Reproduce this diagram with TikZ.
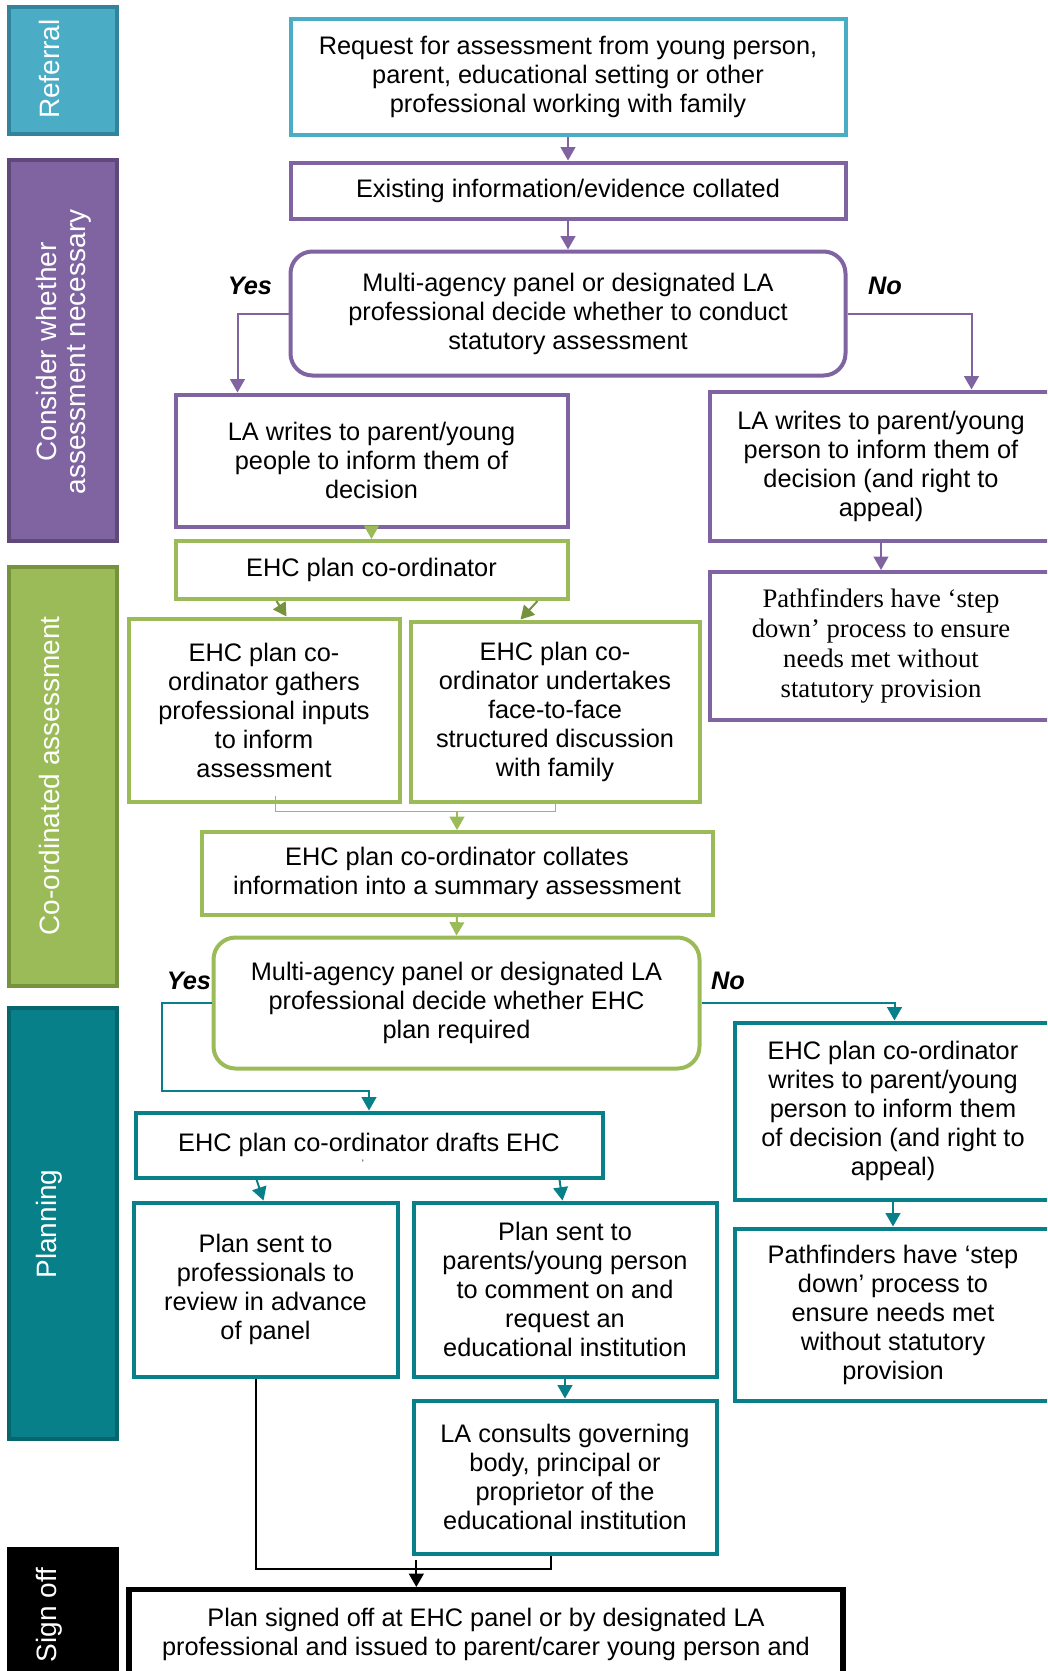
\documentclass[tikz,border=0pt]{standalone}
\usepackage{fontspec}
\setmainfont{Liberation Sans}
\newfontfamily\serifbox{Liberation Serif}
\usetikzlibrary{arrows.meta}
\definecolor{refc}{HTML}{4BACC6}
\definecolor{refd}{HTML}{31849B}
\definecolor{purc}{HTML}{8064A2}
\definecolor{purd}{HTML}{5F497A}
\definecolor{grnc}{HTML}{9BBB59}
\definecolor{grnd}{HTML}{76923C}
\definecolor{tlc}{HTML}{07808A}
\definecolor{tld}{HTML}{05666E}
\begin{document}
\begin{tikzpicture}[x=0.75pt,y=-0.75pt,
  sz/.style 2 args={minimum width=#1*0.75pt, minimum height=#2*0.75pt},
  box/.style={draw, line width=3pt, inner sep=0pt, fill=white, align=center,
    font=\fontsize{19pt}{21.75pt}\selectfont},
  serifbx/.style={font=\serifbox\fontsize{20pt}{22.4pt}\selectfont},
  bar/.style 2 args={fill=#1, draw=#2, line width=3pt, inner sep=0pt},
  bartext/.style={rotate=90, text=white, align=center,
    font=\fontsize{21pt}{21.75pt}\selectfont},
  yn/.style={font=\fontsize{19pt}{21.75pt}\selectfont\bfseries\itshape},
  arr/.style={line width=1.5pt, -{Triangle[length=10pt,width=11pt]}},
  thinln/.style={line width=1.1pt}]
\useasboundingbox (0,0) rectangle (1047,1671);
\clip (0,0) rectangle (1047,1671);

% side bars
\node[bar={refc}{refd}, sz={108}{127}] (bref) at (62.5,70) {};
\node[bartext] (tref) at (49,69) {Referral};
\node[bar={purc}{purd}, sz={108}{381}] (bcons) at (62.5,350) {};
\node[bartext] (tcons) at (64,352) {Consider whether\\assessment necessary};
\node[bar={grnc}{grnd}, sz={108}{419}] (bcoord) at (62.5,776) {};
\node[bartext] (tcoord) at (49,776) {Co-ordinated assessment};
\node[bar={tlc}{tld}, sz={108}{431}] (bplan) at (62.5,1223) {};
\node[bartext] (tplan) at (49,1224) {Planning};
\node[bar={black}{black}, sz={108}{160}] (bsign) at (62.5,1629) {};
\node[bartext] (tsign) at (49,1615) {Sign off};

% boxes
\node[box, draw=refc, sz={555}{116}] (req) at (568,76.5)
  {Request for assessment from young person,\\parent, educational setting or other\\professional working with family};
\node[box, draw=purc, sz={555}{56}] (exist) at (568,190.5)
  {Existing information/evidence collated};
\node[box, draw=purc, rounded corners=16.5pt, sz={555}{124}] (dec1) at (568,313.5)
  {Multi-agency panel or designated LA\\professional decide whether to conduct\\statutory assessment};
\node[box, draw=purc, sz={392}{132}] (lal) at (371.5,460.5)
  {LA writes to parent/young\\people to inform them of\\decision};
\node[box, draw=purc, sz={343}{149}] (lar) at (881,466)
  {LA writes to parent/young\\person to inform them of\\decision (and right to\\appeal)};
\node[box, draw=purc, serifbx, sz={343}{148}] (pathp) at (881,646)
  {Pathfinders have ‘step\\down’ process to ensure\\needs met without\\statutory provision};
\node[box, draw=grnc, sz={392}{58}] (ehc) at (371.5,570)
  {EHC plan co-ordinator};
\node[box, draw=grnc, sz={271}{183}] (gath) at (264,710)
  {EHC plan co-\\ordinator gathers\\professional inputs\\to inform\\assessment};
\node[box, draw=grnc, sz={289}{180}] (under) at (555,711.5)
  {EHC plan co-\\ordinator undertakes\\face-to-face\\structured discussion\\with family};
\node[box, draw=grnc, sz={511}{83}] (coll) at (457,873.5)
  {EHC plan co-ordinator collates\\information into a summary assessment};
\node[box, draw=grnc, rounded corners=16.5pt, sz={486}{131}] (dec2) at (456.5,1003)
  {Multi-agency panel or designated LA\\professional decide whether EHC\\plan required};
\node[box, draw=tlc, sz={317}{177}] (ehcw) at (893,1111)
  {EHC plan co-ordinator\\writes to parent/young\\person to inform them\\of decision (and right to\\appeal)};
\node[box, draw=tlc, sz={317}{172}] (patht) at (893,1314.5)
  {Pathfinders have ‘step\\down’ process to\\ensure needs met\\without statutory\\provision};
\node[box, draw=tlc, sz={467}{65}] (draft) at (369,1145)
  {EHC plan co-ordinator drafts EHC};
\node[font=\fontsize{7pt}{7pt}\selectfont] (dmark) at (363,1163) {'};
\node[box, draw=tlc, sz={264}{174}] (prof) at (265.5,1289.5)
  {Plan sent to\\professionals to\\review in advance\\of panel};
\node[box, draw=tlc, sz={303}{174}] (par) at (565,1289.5)
  {Plan sent to\\parents/young person\\to comment on and\\request an\\educational institution};
\node[box, draw=tlc, sz={303}{153}] (cons) at (565,1477)
  {LA consults governing\\body, principal or\\proprietor of the\\educational institution};
\node[box, draw=black, line width=4pt, minimum width=714*0.75pt, inner ysep=14pt, anchor=north] (sign) at (486,1587)
  {Plan signed off at EHC panel or by designated LA\\professional and issued to parent/carer young person and};

% yes / no labels
\node[yn] (yes1) at (250,286) {Yes};
\node[yn] (no1) at (885,286) {No};
\node[yn] (yes2) at (189,981) {Yes};
\node[yn] (no2) at (728,981) {No};

% connectors
\draw[arr, purc] (req.south) -- (exist.north);
\draw[arr, purc] (exist.south) -- (dec1.north);
\draw[arr, purc] (dec1.west) -| ([xshift=48pt]lal.north west);
\draw[arr, purc] (dec1.east) -| ([xshift=198pt]lar.north west);
\draw[arr, grnc] (lal.south) -- (ehc.north);
\draw[arr, purc] (lar.south) -- (pathp.north);
\draw[arr, grnd] ([xshift=77.25pt]ehc.south west) -- ([xshift=120pt]gath.north west);
\draw[arr, grnd] ([xshift=273pt]ehc.south west) -- ([xshift=84pt]under.north west);
\draw[thinln, grnc] ([xshift=111.75pt,yshift=6pt]gath.south west) -- ++(0,16) -| ([xshift=110.25pt]under.south west);
\draw[arr, grnc] ([yshift=14.25pt]coll.north) -- (coll.north);
\draw[arr, grnc] (coll.south) -- (dec2.north);
\draw[arr, tlc] (dec2.west) -- ++(-50,0) -- ++(0,88) -| (draft.north);
\draw[arr, tlc] (dec2.east) -| ([xshift=121.5pt]ehcw.north west);
\draw[arr, tlc] ([xshift=92.25pt]draft.south west) -- ([xshift=99pt]prof.north west);
\draw[arr, tlc] ([xshift=319.5pt]draft.south west) -- ([xshift=113.25pt]par.north west);
\draw[arr, tlc] (ehcw.south) -- (patht.north);
\draw[arr, tlc] (par.south) -- (cons.north);
\draw[line width=1.5pt] ([xshift=93pt]prof.south west) -- ++(0,190) -| ([xshift=104.25pt]cons.south west);
\draw[arr, black] ([xshift=217.5pt,yshift=20.25pt]sign.north west) -- ([xshift=217.5pt]sign.north west);
\end{tikzpicture}
\end{document}
